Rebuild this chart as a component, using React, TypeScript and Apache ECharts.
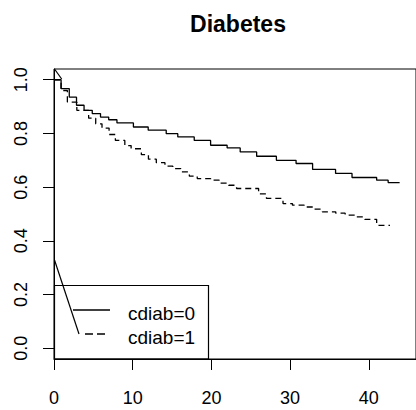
import React, { useEffect, useRef } from "react";
import * as echarts from "echarts";

const titleText = "Diabetes";
const xTicks = [0, 10, 20, 30, 40];
const yTicks = [0, 0.2, 0.4, 0.6, 0.8, 1.0];
const yTickLabels = ["0.0", "0.2", "0.4", "0.6", "0.8", "1.0"];
const legendNames = ["cdiab=0", "cdiab=1"];

// cdiab=0 (solid)
const timeGroup0 = [0, 0.9, 1.94, 2.86, 3.82, 4.86, 5.91, 6.95, 8.0, 10.09, 11.97, 14.26, 15.73, 17.82, 19.9, 22.0, 23.66, 25.75, 28.26, 30.76, 32.86, 35.78, 37.87, 41.0, 42.46, 43.92];
const survGroup0 = [1.0, 0.967, 0.935, 0.905, 0.886, 0.874, 0.861, 0.851, 0.839, 0.824, 0.812, 0.799, 0.787, 0.774, 0.756, 0.746, 0.731, 0.715, 0.7, 0.688, 0.666, 0.651, 0.636, 0.626, 0.617, 0.617];

// cdiab=1 (dashed)
const timeGroup1 = [0, 0.9, 1.7, 2.9, 4.4, 5.3, 6.1, 7.0, 7.8, 9.0, 9.8, 11.1, 12.0, 13.0, 14.1, 15.1, 16.1, 17.2, 18.2, 19.9, 21.0, 22.2, 23.2, 26.0, 27.0, 29.1, 30.3, 31.8, 33.0, 34.1, 35.8, 37.0, 38.3, 39.5, 41.0, 42.7];
const survGroup1 = [1.0, 0.96, 0.917, 0.886, 0.857, 0.836, 0.82, 0.796, 0.774, 0.755, 0.743, 0.721, 0.704, 0.691, 0.678, 0.669, 0.657, 0.641, 0.632, 0.626, 0.615, 0.607, 0.595, 0.575, 0.558, 0.539, 0.533, 0.526, 0.518, 0.508, 0.503, 0.496, 0.489, 0.48, 0.458, 0.458];

const FONT = "'Liberation Sans', Arial, Helvetica, sans-serif";

export default function App() {
  const ref = useRef<HTMLDivElement>(null);
  useEffect(() => {
    if (!ref.current) return;
    const chart = echarts.init(ref.current, null, { renderer: "svg" });
    const d0 = timeGroup0.map((t, i) => [t, survGroup0[i]]);
    const d1 = timeGroup1.map((t, i) => [t, survGroup1[i]]);
    chart.setOption({
      animation: false,
      backgroundColor: "#ffffff",
      grid: {
        left: 54,
        top: 69,
        right: -6,
        bottom: 51,
        show: true,
        borderColor: "#000",
        borderWidth: 1,
        backgroundColor: "transparent",
      },
      xAxis: {
        type: "value",
        min: 0,
        max: 46,
        axisLine: { show: true, onZero: false, lineStyle: { color: "#000", width: 1 } },
        axisTick: { show: true, length: 11, customValues: xTicks, lineStyle: { color: "#000" } },
        axisLabel: {
          customValues: xTicks,
          fontSize: 18,
          color: "#000",
          fontFamily: FONT,
          margin: 30,
        },
        splitLine: { show: false },
      },
      yAxis: {
        type: "value",
        min: -0.04,
        max: 1.04,
        axisLine: { show: true, onZero: false, lineStyle: { color: "#000", width: 1 } },
        axisTick: { show: true, length: 11, customValues: yTicks, lineStyle: { color: "#000" } },
        axisLabel: {
          customValues: yTicks,
          rotate: 90,
          fontSize: 18,
          color: "#000",
          fontFamily: FONT,
          margin: 24,
          formatter: (v: number) => {
            const idx = yTicks.findIndex((t) => Math.abs(t - v) < 1e-6);
            return idx >= 0 ? yTickLabels[idx] : "";
          },
        },
        splitLine: { show: false },
      },
      series: [
        {
          name: legendNames[0],
          type: "line",
          step: "end",
          data: d0,
          symbol: "none",
          lineStyle: { color: "#000", width: 1.3, type: "solid" },
        },
        {
          name: legendNames[1],
          type: "line",
          step: "end",
          data: d1,
          symbol: "none",
          lineStyle: { color: "#000", width: 1.3, type: [6, 4] },
        },
      ],
      graphic: [
        {
          type: "text",
          x: 238,
          y: 24,
          style: {
            text: titleText,
            fontSize: 23,
            fontWeight: "bold",
            fontFamily: FONT,
            fill: "#000",
            textAlign: "center",
            textVerticalAlign: "middle",
          },
        },
        {
          type: "rect",
          shape: { x: 54.5, y: 285.5, width: 154, height: 73.5 },
          style: { fill: "transparent", stroke: "#000", lineWidth: 1.2 },
        },
        {
          type: "line",
          shape: { x1: 73, y1: 310, x2: 110, y2: 310 },
          style: { stroke: "#000", lineWidth: 1.3 },
        },
        {
          type: "line",
          shape: { x1: 85, y1: 334, x2: 106, y2: 334 },
          style: { stroke: "#000", lineWidth: 1.3, lineDash: [8, 4] },
        },
        {
          type: "text",
          x: 128,
          y: 313,
          style: {
            text: legendNames[0],
            fontSize: 19,
            fontFamily: FONT,
            fill: "#000",
            textAlign: "left",
            textVerticalAlign: "middle",
          },
        },
        {
          type: "text",
          x: 128,
          y: 337,
          style: {
            text: legendNames[1],
            fontSize: 19,
            fontFamily: FONT,
            fill: "#000",
            textAlign: "left",
            textVerticalAlign: "middle",
          },
        },
        {
          type: "line",
          shape: { x1: 54.5, y1: 260, x2: 79, y2: 334 },
          style: { stroke: "#000", lineWidth: 1.2 },
        },
        {
          type: "line",
          shape: { x1: 54.5, y1: 69, x2: 61.7, y2: 79 },
          style: { stroke: "#000", lineWidth: 1.2 },
        },
      ],
    });
    return () => chart.dispose();
  }, []);
  return <div ref={ref} style={{ width: 416, height: 410, position: "absolute", left: 0, top: 0 }} />;
}
